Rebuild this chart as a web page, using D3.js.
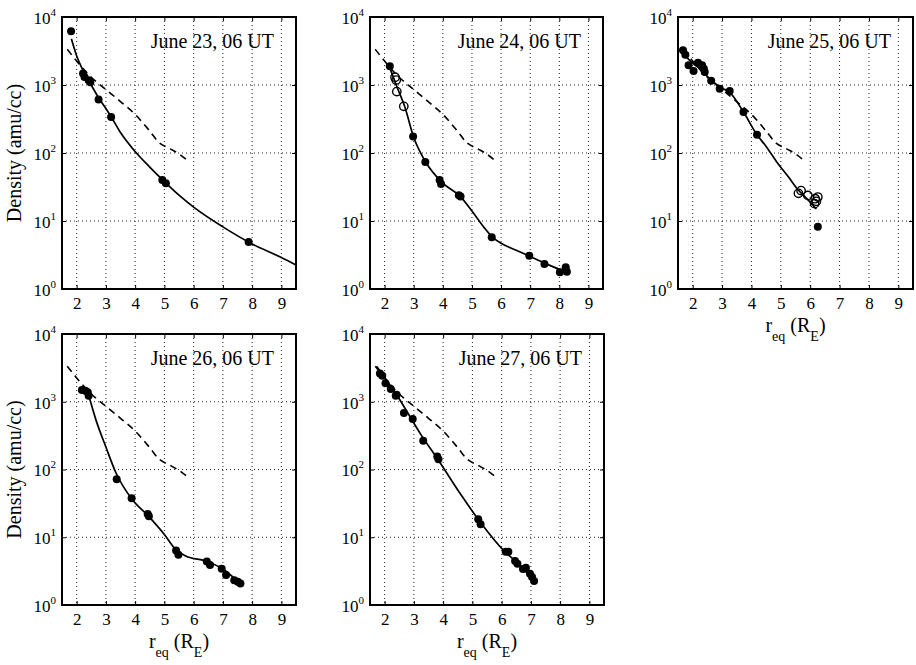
<!DOCTYPE html>
<html>
<head>
<meta charset="utf-8">
<script src="https://cdn.jsdelivr.net/npm/d3@7"></script>
<style>
  body { margin: 0; background: #fff; }
  svg { display: block; font-family: "Liberation Serif", "Times New Roman", serif; }
  text { white-space: pre; }
</style>
</head>
<body>
<svg id="chart" width="916" height="665"></svg>
<script>
// ---- data ----
const xTicks = [2, 3, 4, 5, 6, 7, 8, 9]
const yTicks = [1, 10, 100, 1000, 10000]

// dashed reference model, same on every panel
const modelR = [1.68, 2.0, 2.5, 3.0, 3.5, 4.0, 4.5, 4.8, 5.2, 5.5, 5.85]
const modelN = [3350, 2250, 1300, 860, 570, 370, 210, 145, 115, 97, 74]

// June 23
const jun23R = [1.81, 2.22, 2.27, 2.41, 2.47, 2.75, 3.18, 4.93, 5.05, 7.88]
const jun23N = [6150, 1470, 1310, 1170, 1100, 610, 339, 40, 36, 4.9]
const jun23FitR = [1.82, 2.0, 2.2, 2.5, 2.75, 3.0, 3.2, 3.5, 4.0, 4.5, 5.0, 5.5, 6.0, 7.0, 8.0, 9.0, 9.5]
const jun23FitN = [4800, 2700, 1700, 1000, 650, 450, 330, 200, 105, 62, 38, 24, 16, 8.2, 4.6, 2.9, 2.25]

// June 24
const jun24R = [2.18, 2.98, 3.40, 3.89, 3.94, 4.55, 4.61, 5.68, 6.97, 7.49, 8.02, 8.22, 8.26]
const jun24N = [1880, 175, 74, 40, 35, 24, 23, 5.75, 3.09, 2.33, 1.76, 2.09, 1.8]
const jun24OpenR = [2.36, 2.40, 2.42, 2.66]
const jun24OpenN = [1300, 1180, 800, 485]
const jun24FitR = [2.13, 2.4, 2.7, 3.0, 3.4, 4.0, 4.6, 5.0, 5.4, 5.7, 6.0, 6.5, 7.0, 7.5, 8.0, 8.25]
const jun24FitN = [2060, 1000, 470, 170, 75, 36, 23, 14, 8.2, 5.8, 4.7, 3.75, 3.0, 2.4, 1.95, 1.8]

// June 25
const jun25R = [1.67, 1.75, 1.86, 2.03, 2.18, 2.32, 2.38, 2.41, 2.63, 2.92, 3.26, 3.73, 4.19, 6.26]
const jun25N = [3240, 2790, 1950, 1610, 2130, 1950, 1740, 1550, 1150, 880, 817, 401, 186, 8.2]
const jun25OpenR = [5.60, 5.69, 5.92, 6.15, 6.17, 6.21, 6.26]
const jun25OpenN = [25.5, 28, 23.8, 18, 21.3, 19.5, 22.5]
const jun25FitR = [1.67, 2.0, 2.3, 2.63, 3.0, 3.26, 3.73, 4.19, 4.5, 4.9, 5.25, 5.58, 5.9, 6.21]
const jun25FitN = [2900, 2100, 1650, 1170, 900, 780, 400, 185, 125, 70, 45, 29, 21, 15]

// June 26
const jun26R = [2.18, 2.30, 2.38, 2.41, 3.37, 3.88, 4.43, 4.47, 5.40, 5.48, 6.45, 6.56, 6.96, 7.11, 7.39, 7.51, 7.60]
const jun26N = [1490, 1450, 1380, 1230, 72, 37.7, 22, 20.5, 6.4, 5.5, 4.37, 3.9, 3.44, 2.77, 2.32, 2.21, 2.07]
const jun26FitR = [2.38, 2.66, 3.0, 3.35, 3.88, 4.48, 5.0, 5.4, 5.73, 6.45, 7.0, 7.57]
const jun26FitN = [1400, 540, 215, 88, 37, 20, 11, 6.5, 5.3, 4.4, 3.4, 2.1]

// June 27
const jun27R = [1.84, 1.92, 2.03, 2.21, 2.38, 2.41, 2.66, 2.96, 3.32, 3.80, 3.84, 5.20, 5.28, 6.14, 6.23, 6.46, 6.54, 6.73, 6.83, 6.97, 7.04, 7.11]
const jun27N = [2620, 2420, 1870, 1540, 1230, 1270, 680, 555, 266, 156, 142, 18.5, 15.6, 6.1, 6.1, 4.47, 4.08, 3.4, 3.56, 2.9, 2.6, 2.26]
const jun27FitR = [1.73, 2.41, 3.23, 3.89, 4.6, 5.28, 6.08, 6.54, 7.11]
const jun27FitN = [3330, 1270, 333, 127, 43, 16.5, 6.3, 4.2, 2.26]

// ---- build ----
const zip = (r, n) => r.map((v, i) => ({r: v, n: n[i]}))
const model = zip(modelR, modelN)

const panels = [
  {title: 'June 23, 06 UT', box: [62, 17, 296, 289], filled: zip(jun23R, jun23N), open: [],
   fit: zip(jun23FitR, jun23FitN), ylab: true, xlab: false},
  {title: 'June 24, 06 UT', box: [370, 17, 603, 289], filled: zip(jun24R, jun24N), open: zip(jun24OpenR, jun24OpenN),
   fit: zip(jun24FitR, jun24FitN), ylab: false, xlab: false},
  {title: 'June 25, 06 UT', box: [678, 17, 913, 289], filled: zip(jun25R, jun25N), open: zip(jun25OpenR, jun25OpenN),
   fit: zip(jun25FitR, jun25FitN), ylab: false, xlab: true},
  {title: 'June 26, 06 UT', box: [62, 334, 296, 605], filled: zip(jun26R, jun26N), open: [],
   fit: zip(jun26FitR, jun26FitN), ylab: true, xlab: true},
  {title: 'June 27, 06 UT', box: [370, 334, 604, 605], filled: zip(jun27R, jun27N), open: [],
   fit: zip(jun27FitR, jun27FitN), ylab: false, xlab: true}
]

const svg = d3.select('#chart')

function styleAxis(g) {
  g.attr('font-family', null).attr('font-size', 17)
  g.select('.domain').remove()
  g.selectAll('.tick line').attr('stroke', '#000')
}

panels.forEach(p => {
  const [x0, y0, x1, y1] = p.box
  const x = d3.scaleLinear().domain([1.5, 9.5]).range([x0, x1])
  const y = d3.scaleLog().domain([1, 1e4]).range([y1, y0])
  const g = svg.append('g')

  // dotted grid
  g.append('g').selectAll('line').data(xTicks).join('line')
    .attr('x1', d => x(d)).attr('x2', d => x(d))
    .attr('y1', y0).attr('y2', y1)
    .attr('stroke', '#222').attr('stroke-width', 1).attr('stroke-dasharray', '1,3')
  g.append('g').selectAll('line').data(yTicks.slice(1, -1)).join('line')
    .attr('x1', x0).attr('x2', x1)
    .attr('y1', d => y(d)).attr('y2', d => y(d))
    .attr('stroke', '#222').attr('stroke-width', 1).attr('stroke-dasharray', '1,3')

  // axes, ticks pointing inward
  g.append('g').attr('transform', `translate(0,${y1})`)
    .call(d3.axisBottom(x).tickValues(xTicks).tickSize(-4).tickPadding(8))
    .call(styleAxis)
  g.append('g').attr('transform', `translate(0,${y0})`)
    .call(d3.axisTop(x).tickValues(xTicks).tickSize(-4).tickFormat(''))
    .call(styleAxis)
  g.append('g').attr('transform', `translate(${x1},0)`)
    .call(d3.axisRight(y).tickValues(yTicks).tickSize(-4).tickFormat(''))
    .call(styleAxis)
  const yl = g.append('g').attr('transform', `translate(${x0},0)`)
    .call(d3.axisLeft(y).tickValues(yTicks).tickSize(-4).tickPadding(6).tickFormat(''))
    .call(styleAxis)
  yl.selectAll('.tick text').each(function(d) {
    const t = d3.select(this).attr('dy', '0.38em')
    t.append('tspan').text('10')
    t.append('tspan').attr('dy', -8).attr('font-size', 11).text(Math.round(Math.log10(d)))
  })

  // model (dashed)
  const line = d3.line().x(d => x(d.r)).y(d => y(d.n)).curve(d3.curveMonotoneX)
  g.append('path').datum(model)
    .attr('d', line)
    .attr('fill', 'none').attr('stroke', '#000')
    .attr('stroke-width', 1.6).attr('stroke-dasharray', '7,5')

  // fitted profile
  g.append('path').datum(p.fit)
    .attr('d', line)
    .attr('fill', 'none').attr('stroke', '#000').attr('stroke-width', 1.7)

  // measurements
  g.append('g').selectAll('circle').data(p.open).join('circle')
    .attr('cx', d => x(d.r)).attr('cy', d => y(d.n)).attr('r', 4.2)
    .attr('fill', 'none').attr('stroke', '#000').attr('stroke-width', 1.4)
  g.append('g').selectAll('circle').data(p.filled).join('circle')
    .attr('cx', d => x(d.r)).attr('cy', d => y(d.n)).attr('r', 4)
    .attr('fill', '#000')

  // box
  g.append('rect')
    .attr('x', x0).attr('y', y0).attr('width', x1 - x0).attr('height', y1 - y0)
    .attr('fill', 'none').attr('stroke', '#000').attr('stroke-width', 2)

  // panel label
  g.append('text')
    .attr('x', x1 - 22).attr('y', y0 + 31)
    .attr('text-anchor', 'end').attr('font-size', 20)
    .text(p.title)

  if (p.ylab) {
    g.append('text')
      .attr('transform', `translate(21,${(y0 + y1) / 2}) rotate(-90)`)
      .attr('text-anchor', 'middle').attr('font-size', 20)
      .text('Density (amu/cc)')
  }

  if (p.xlab) {
    const t = g.append('text')
      .attr('x', (x0 + x1) / 2).attr('y', y1 + 43)
      .attr('text-anchor', 'middle').attr('font-size', 20)
    t.append('tspan').text('r')
    t.append('tspan').attr('dy', 9).attr('font-size', 14).text('eq')
    t.append('tspan').attr('dy', -9).text(' (R')
    t.append('tspan').attr('dy', 9).attr('font-size', 14).text('E')
    t.append('tspan').attr('dy', -9).text(')')
  }
})
</script>
</body>
</html>
